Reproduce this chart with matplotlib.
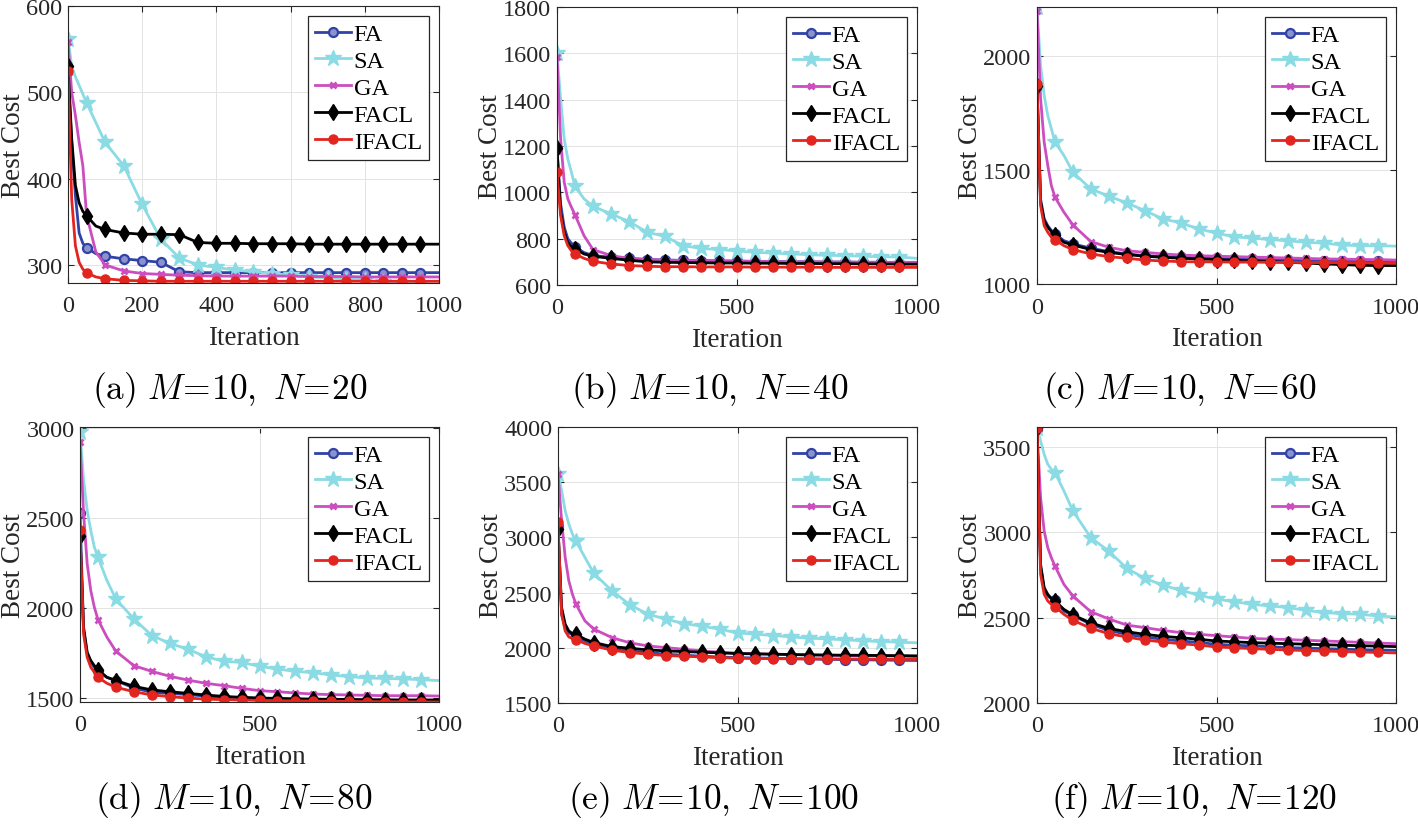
import matplotlib
matplotlib.use("Agg")
import matplotlib.pyplot as plt

plt.rcParams['font.family'] = ['Liberation Serif', 'DejaVu Serif']
plt.rcParams['mathtext.fontset'] = 'cm'

# iteraciones donde se leyeron los valores
ITER = [0, 10, 20, 30, 40, 50, 75, 100, 150, 200, 250, 300, 350, 400, 450,
        500, 550, 600, 650, 700, 750, 800, 850, 900, 950, 1000]

ALGOS = ["FA", "SA", "GA", "FACL", "IFACL"]

# (a) M=10, N=20
a_FA = [525, 440, 380, 337, 325, 320, 313, 310, 307, 305, 303, 292, 291, 291, 291, 291, 291, 291, 291, 291, 291, 291, 291, 291, 291, 291]
a_SA = [562, 530, 518, 508, 498, 488, 465, 442, 415, 370, 330, 308, 300, 297, 294, 292, 290, 288, 286, 285, 284, 282, 280, 279, 278, 278]
a_GA = [558, 500, 473, 442, 415, 358, 315, 300, 293, 290, 289, 288, 287.5, 287, 287, 287, 287, 287, 286.5, 286.5, 286.5, 286, 286, 286, 286, 286]
a_FACL = [530, 446, 392, 372, 362, 357, 345, 341, 337, 335.5, 335.5, 335, 326, 325, 325, 324.5, 324.5, 324.5, 324, 324, 324, 324, 324, 324, 324, 324]
a_IFACL = [525, 376, 322, 303, 295, 291, 286, 284, 282, 281.5, 281, 281, 281, 281, 281, 281, 281, 281, 281, 281, 281, 281, 281, 281, 281, 281]

# (b) M=10, N=40
b_FA = [1185, 950, 850, 800, 780, 765, 740, 727, 720, 715, 710, 708, 706, 705, 704, 703, 702, 701, 700, 700, 699, 699, 698, 698, 697, 697]
b_SA = [1603, 1404, 1231, 1144, 1087, 1026, 972, 940, 907, 874, 828, 810, 770, 758, 753, 747, 741, 738, 734, 731, 728, 727, 724, 722, 721, 715]
b_GA = [1585, 1231, 1044, 972, 936, 903, 813, 753, 727, 715, 710, 707, 706, 705, 704, 703, 702, 701, 700, 700, 699, 699, 698, 698, 698, 698]
b_FACL = [1190, 914, 828, 784, 763, 756, 734, 724, 715, 707, 700, 698, 697, 696, 695, 695, 694, 694, 693, 693, 692, 692, 691, 691, 690, 690]
b_IFACL = [1087, 900, 813, 770, 748, 734, 715, 702, 691, 684, 681, 679, 679, 678, 678, 678, 677, 677, 677, 677, 676, 676, 676, 676, 676, 676]

# (c) M=10, N=60
c_FA = [1868, 1373, 1286, 1256, 1234, 1220, 1190, 1176, 1157, 1142, 1132, 1124, 1120, 1117, 1114, 1112, 1110, 1108, 1106, 1104, 1103, 1102, 1101, 1100, 1099, 1098]
c_SA = [2215, 1959, 1827, 1739, 1681, 1622, 1564, 1490, 1417, 1385, 1356, 1322, 1286, 1268, 1242, 1223, 1207, 1201, 1195, 1189, 1183, 1179, 1171, 1168, 1168, 1166]
c_GA = [2196, 1813, 1622, 1520, 1432, 1381, 1315, 1259, 1186, 1161, 1146, 1139, 1132, 1127, 1124, 1122, 1120, 1118, 1116, 1114, 1112, 1110, 1109, 1108, 1107, 1105]
c_FACL = [1868, 1359, 1278, 1249, 1230, 1215, 1183, 1171, 1151, 1139, 1129, 1122, 1117, 1113, 1110, 1107, 1104, 1101, 1098, 1095, 1092, 1088, 1085, 1082, 1081, 1081]
c_IFACL = [1878, 1344, 1256, 1227, 1205, 1195, 1168, 1151, 1132, 1120, 1113, 1105, 1101, 1098, 1097, 1097, 1096, 1096, 1095, 1095, 1094, 1094, 1093, 1093, 1092, 1091]

# (d) M=10, N=80
d_FA = [2529, 1875, 1745, 1698, 1671, 1652, 1615, 1597, 1556, 1532, 1526, 1519, 1511, 1504, 1500, 1498, 1495, 1491, 1490, 1489, 1488, 1487, 1486, 1484, 1483, 1482]
d_SA = [2978, 2709, 2542, 2431, 2338, 2282, 2153, 2049, 1940, 1847, 1804, 1771, 1730, 1704, 1698, 1676, 1661, 1648, 1641, 1628, 1619, 1611, 1609, 1606, 1602, 1597]
d_GA = [2922, 2524, 2246, 2097, 2004, 1936, 1838, 1760, 1680, 1648, 1621, 1600, 1582, 1569, 1554, 1541, 1535, 1528, 1522, 1519, 1517, 1515, 1513, 1513, 1513, 1511]
d_FACL = [2399, 1893, 1754, 1708, 1680, 1656, 1615, 1597, 1565, 1545, 1535, 1526, 1517, 1509, 1504, 1500, 1498, 1496, 1494, 1493, 1492, 1491, 1490, 1489, 1489, 1489]
d_IFACL = [2431, 1856, 1726, 1671, 1643, 1615, 1582, 1560, 1535, 1517, 1508, 1500, 1494, 1491, 1489, 1487, 1485, 1484, 1483, 1482, 1481, 1480, 1480, 1479, 1479, 1478]

# (e) M=10, N=100
e_FA = [3100, 2305, 2184, 2138, 2117, 2102, 2063, 2032, 1996, 1972, 1957, 1942, 1933, 1924, 1917, 1911, 1908, 1905, 1902, 1899, 1896, 1893, 1891, 1889, 1887, 1885]
e_SA = [3576, 3425, 3243, 3122, 3031, 2965, 2819, 2674, 2517, 2390, 2305, 2260, 2220, 2196, 2169, 2135, 2123, 2111, 2099, 2087, 2081, 2072, 2063, 2057, 2051, 2045]
e_GA = [3576, 3152, 2820, 2608, 2487, 2396, 2244, 2169, 2093, 2045, 2017, 2002, 1987, 1972, 1960, 1951, 1946, 1942, 1939, 1936, 1933, 1930, 1928, 1927, 1925, 1920]
e_FACL = [3077, 2365, 2214, 2153, 2129, 2123, 2078, 2048, 2011, 1996, 1981, 1972, 1966, 1960, 1954, 1948, 1945, 1942, 1939, 1936, 1934, 1933, 1932, 1930, 1929, 1927]
e_IFACL = [3137, 2305, 2153, 2099, 2084, 2075, 2039, 2017, 1978, 1957, 1942, 1930, 1924, 1917, 1911, 1905, 1903, 1902, 1900, 1899, 1899, 1899, 1898, 1896, 1896, 1896]

# (f) M=10, N=120
f_FA = [3601, 2792, 2665, 2626, 2610, 2601, 2538, 2513, 2460, 2425, 2402, 2386, 2373, 2363, 2355, 2343, 2338, 2334, 2329, 2324, 2321, 2318, 2315, 2312, 2310, 2308]
f_SA = [3611, 3533, 3455, 3397, 3367, 3348, 3241, 3124, 2967, 2889, 2788, 2730, 2690, 2659, 2632, 2607, 2593, 2577, 2568, 2558, 2542, 2529, 2523, 2519, 2509, 2503]
f_GA = [3600, 3202, 3006, 2909, 2850, 2802, 2694, 2626, 2534, 2492, 2456, 2441, 2425, 2412, 2402, 2394, 2386, 2378, 2374, 2371, 2367, 2363, 2359, 2355, 2351, 2347]
f_FACL = [3611, 2811, 2675, 2636, 2612, 2597, 2548, 2515, 2468, 2437, 2417, 2402, 2390, 2382, 2373, 2363, 2358, 2353, 2350, 2347, 2344, 2341, 2338, 2335, 2333, 2330]
f_IFACL = [3611, 2753, 2636, 2597, 2577, 2564, 2519, 2484, 2437, 2406, 2386, 2369, 2357, 2347, 2339, 2328, 2323, 2318, 2314, 2310, 2307, 2304, 2301, 2298, 2296, 2293]

paneles = [
    ("a", 20, [a_FA, a_SA, a_GA, a_FACL, a_IFACL], (279, 600), [300, 400, 500, 600], [0, 200, 400, 600, 800, 1000]),
    ("b", 40, [b_FA, b_SA, b_GA, b_FACL, b_IFACL], (600, 1800), [600, 800, 1000, 1200, 1400, 1600, 1800], [0, 500, 1000]),
    ("c", 60, [c_FA, c_SA, c_GA, c_FACL, c_IFACL], (1000, 2215), [1000, 1500, 2000], [0, 500, 1000]),
    ("d", 80, [d_FA, d_SA, d_GA, d_FACL, d_IFACL], (1478, 3005), [1500, 2000, 2500, 3000], [0, 500, 1000]),
    ("e", 100, [e_FA, e_SA, e_GA, e_FACL, e_IFACL], (1500, 4000), [1500, 2000, 2500, 3000, 3500, 4000], [0, 500, 1000]),
    ("f", 120, [f_FA, f_SA, f_GA, f_FACL, f_IFACL], (2000, 3615), [2000, 2500, 3000, 3500], [0, 500, 1000]),
]

# estilo de cada algoritmo
estilos = {
    "FA":    dict(color="#3142a6", marker="o", ms=6.5, mfc="#8a93cc", mew=1.6),
    "SA":    dict(color="#8adbe4", marker="*", ms=12, mfc="#8adbe4", mew=1),
    "GA":    dict(color="#cc4dbf", marker="x", ms=5, mew=2),
    "FACL":  dict(color="#000000", marker="d", ms=8, mfc="#000000"),
    "IFACL": dict(color="#e2251e", marker="o", ms=6.5, mfc="#e2251e"),
}

marcas = [i for i, it in enumerate(ITER) if it % 50 == 0 and it < 1000]

W, H = 1418, 829
fig = plt.figure(figsize=(W / 100, H / 100), dpi=100)

# cajas de ejes en pixeles (izq, der, arriba, abajo)
cajas = [(68, 439, 7, 284), (557, 917, 8, 286), (1037, 1396, 8, 285),
         (80, 439, 428, 703), (558, 917, 428, 704), (1037, 1396, 428, 704)]
centros_titulo = [(230, 390), (710, 390), (1180, 390),
                  (234, 800), (714, 800), (1194, 800)]

gris = "#262626"

for (letra, n, series, ylim, yt, xt), (x0, x1, y0, y1), (cx, cy) in zip(paneles, cajas, centros_titulo):
    ax = fig.add_axes([x0 / W, 1 - y1 / H, (x1 - x0) / W, (y1 - y0) / H])
    for nombre, vals in zip(ALGOS, series):
        ax.plot(ITER, vals, label=nombre, lw=2.0, markevery=marcas, **estilos[nombre])
    ax.set_xlim(0, 1000)
    ax.set_ylim(*ylim)
    ax.set_xticks(xt)
    ax.set_yticks(yt)
    ax.grid(True, color="#e3e3e3", lw=0.7)
    ax.tick_params(direction="in", top=True, right=True, labelsize=17.5,
                   colors=gris, length=4, width=0.8)
    ax.tick_params(axis="x", pad=9)
    ax.tick_params(axis="y", pad=4)
    for s in ax.spines.values():
        s.set_color(gris)
        s.set_linewidth(0.8)
    ax.set_xlabel("Iteration", fontsize=19.5, color=gris, labelpad=6)
    ax.set_ylabel("Best Cost", fontsize=19.5, color=gris, labelpad=0)
    leg = ax.legend(loc="upper right", fontsize=17.5, fancybox=False, framealpha=1,
                    edgecolor=gris, handlelength=1.5, handletextpad=0.1,
                    labelspacing=0.2, borderpad=0.3, borderaxespad=0.4)
    leg.get_frame().set_linewidth(0.9)
    fig.text(cx / W, 1 - cy / H, r"$\mathrm{(%s)}\ M\!=\!10,\ N\!=\!%d$" % (letra, n),
             fontsize=25.5, ha="center", va="center")

fig.savefig("out.png", dpi=100)
